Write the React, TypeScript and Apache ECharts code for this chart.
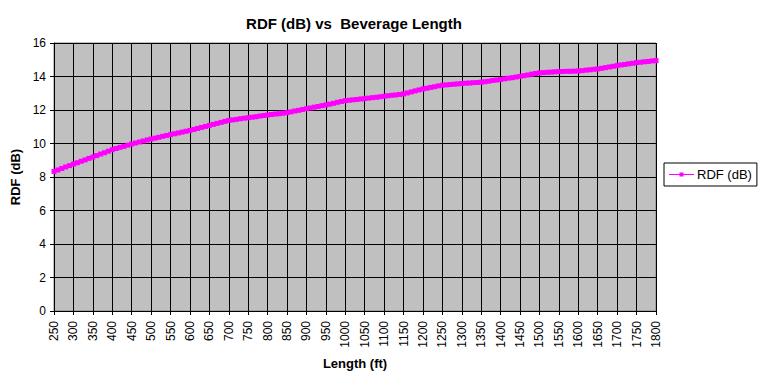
import React, { useEffect, useRef } from "react";
import * as echarts from "echarts";

// Length in feet, every 10 ft from 250 to 1800
const lengths: string[] = [];
for (let l = 250; l <= 1800; l += 10) lengths.push(String(l));

// RDF (dB) values, one per 10 ft step
const rdf: number[] = [
  8.33, 8.42, 8.51, 8.60, 8.68,
  8.77, 8.85, 8.94, 9.02, 9.11,
  9.19, 9.28, 9.37, 9.45, 9.54,
  9.63, 9.70, 9.77, 9.83, 9.90,
  9.97, 10.03, 10.09, 10.15, 10.21,
  10.27, 10.32, 10.37, 10.43, 10.48,
  10.53, 10.58, 10.63, 10.68, 10.73,
  10.78, 10.84, 10.90, 10.96, 11.02,
  11.08, 11.14, 11.20, 11.26, 11.32,
  11.38, 11.41, 11.44, 11.48, 11.51,
  11.54, 11.57, 11.60, 11.64, 11.67,
  11.70, 11.73, 11.76, 11.78, 11.81,
  11.84, 11.89, 11.94, 11.98, 12.03,
  12.08, 12.12, 12.17, 12.21, 12.26,
  12.30, 12.35, 12.40, 12.46, 12.51,
  12.56, 12.58, 12.61, 12.63, 12.66,
  12.68, 12.71, 12.74, 12.76, 12.79,
  12.82, 12.85, 12.88, 12.90, 12.93,
  12.96, 13.02, 13.08, 13.14, 13.20,
  13.26, 13.30, 13.35, 13.39, 13.44,
  13.48, 13.50, 13.52, 13.54, 13.56,
  13.58, 13.60, 13.61, 13.63, 13.64,
  13.66, 13.69, 13.72, 13.76, 13.79,
  13.82, 13.86, 13.90, 13.93, 13.97,
  14.01, 14.05, 14.09, 14.14, 14.18,
  14.22, 14.23, 14.25, 14.26, 14.28,
  14.29, 14.30, 14.31, 14.31, 14.32,
  14.33, 14.35, 14.38, 14.40, 14.43,
  14.45, 14.49, 14.53, 14.57, 14.61,
  14.65, 14.69, 14.72, 14.76, 14.79,
  14.83, 14.85, 14.88, 14.90, 14.93,
  14.95,
];

const titleText = "RDF (dB) vs  Beverage Length";
const seriesName = "RDF (dB)";
const xName = "Length (ft)";
const yName = "RDF (dB)";

const FONT = "Arial, 'Liberation Sans', sans-serif";
const LEGEND_ICON =
  "path://M0,2.5L25,2.5L25,3.5L0,3.5Z M10.5,1L14.5,1L14.5,5L10.5,5Z";

export default function App() {
  const ref = useRef<HTMLDivElement>(null);
  useEffect(() => {
    if (!ref.current) return;
    const chart = echarts.init(ref.current, null, { renderer: "svg" });
    chart.setOption({
      animation: false,
      backgroundColor: "#FFFFFF",
      title: {
        text: titleText,
        left: 349,
        top: 11,
        textAlign: "center",
        textStyle: { fontFamily: FONT, fontSize: 15, fontWeight: "bold", color: "#000" },
      },
      legend: {
        left: 664,
        top: 163,
        orient: "vertical",
        padding: [5, 5, 5, 5],
        borderColor: "#000",
        borderWidth: 1,
        itemWidth: 25,
        itemHeight: 6,
        itemGap: 0,
        textStyle: { fontFamily: FONT, fontSize: 13, color: "#000", padding: [0, 0, 0, -2] },
        data: [{ name: seriesName, icon: LEGEND_ICON }],
      },
      grid: {
        left: 54,
        right: 109,
        top: 43,
        bottom: 74,
        show: true,
        backgroundColor: "#C0C0C0",
        borderColor: "#808080",
        borderWidth: 1,
      },
      xAxis: {
        type: "category",
        data: lengths,
        boundaryGap: false,
        name: xName,
        nameLocation: "middle",
        nameGap: 46,
        nameTextStyle: { fontFamily: FONT, fontSize: 13, fontWeight: "bold", color: "#000" },
        axisLine: { show: true, onZero: false, lineStyle: { color: "#000", width: 1 } },
        axisTick: { show: true, interval: 4, length: 4, lineStyle: { color: "#000" } },
        axisLabel: {
          interval: 4,
          rotate: 90,
          margin: 10,
          fontFamily: FONT,
          fontSize: 12,
          color: "#000",
        },
        splitLine: { show: true, interval: 4, lineStyle: { color: "#000", width: 1 } },
      },
      yAxis: {
        type: "value",
        min: 0,
        max: 16,
        interval: 2,
        name: yName,
        nameLocation: "middle",
        nameGap: 30,
        nameTextStyle: { fontFamily: FONT, fontSize: 13, fontWeight: "bold", color: "#000" },
        axisLine: { show: true, lineStyle: { color: "#000", width: 1 } },
        axisTick: { show: true, length: 4, lineStyle: { color: "#000" } },
        axisLabel: { margin: 8, fontFamily: FONT, fontSize: 12, color: "#000" },
        splitLine: { show: true, lineStyle: { color: "#000", width: 1 } },
      },
      series: [
        {
          name: seriesName,
          type: "line",
          data: rdf,
          symbol: "rect",
          symbolSize: 5,
          showAllSymbol: true,
          lineStyle: { color: "#FF00FF", width: 3 },
          itemStyle: { color: "#FF00FF" },
          emphasis: { disabled: true },
        },
      ],
    });
    return () => chart.dispose();
  }, []);
  return (
    <div
      ref={ref}
      style={{ position: "absolute", left: 0, top: 0, width: 765, height: 385 }}
    />
  );
}
